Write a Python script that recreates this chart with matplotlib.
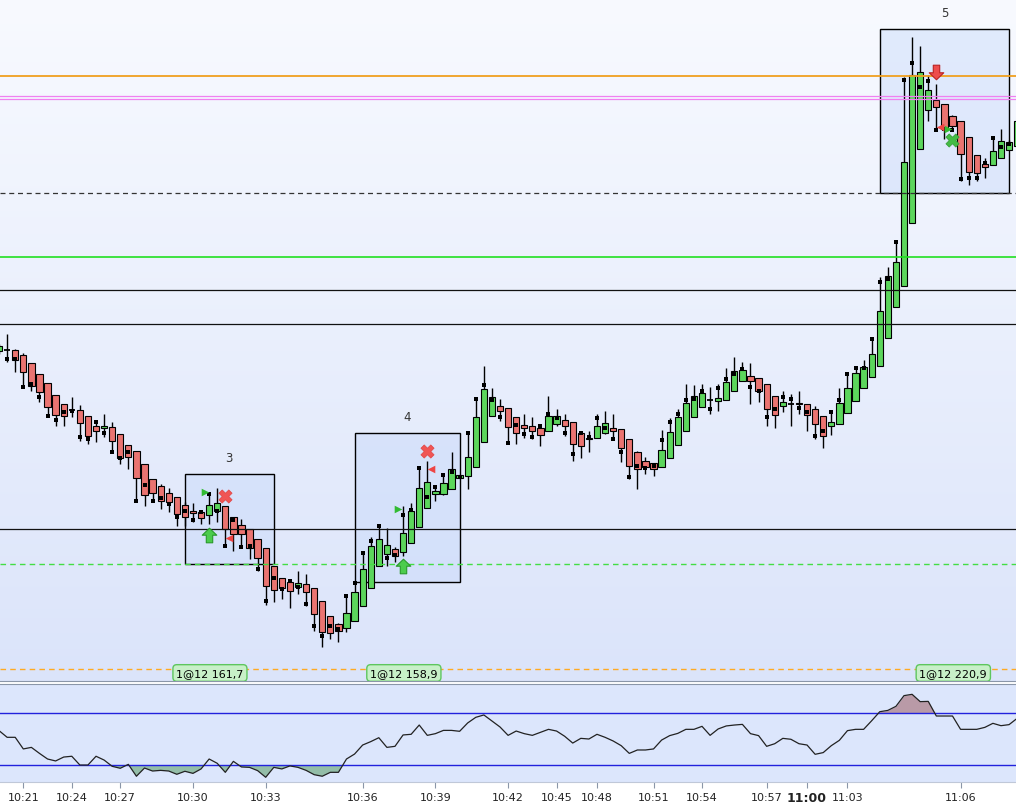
import matplotlib.pyplot as plt
import numpy as np
from matplotlib.path import Path
from matplotlib.colors import LinearSegmentedColormap

# ---- candles (one bar per index) ----
opens = [348, 349, 349, 344, 336, 325, 316, 304, 295, 288.7,
         289, 282.7, 272.7, 270.7, 271.7, 264.7, 253.7, 247.7, 234.7, 219.7,
         212.7, 205.7, 201.7, 193.7, 188, 186.7, 184.3, 188, 192.7, 181.7,
         174, 170, 160, 150.7, 132.7, 121, 117.3, 112.3, 114.7, 110.7,
         97.7, 82.7, 74.7, 71.3, 78.3, 92.7, 111.3, 132.7, 145, 149.7,
         146.7, 156.3, 171.7, 191.3, 204.7, 205.3, 210.3, 220.7, 222.7, 231.7,
         256.7, 283.3, 292.7, 290.7, 281.7, 273.7, 272.7, 270.7, 267.7, 274.7,
         278.7, 276.7, 265.7, 260.7, 260.7, 266.3, 270.7, 269.7, 259.7, 246.7,
         237.7, 235.7, 232.3, 240.7, 253.7, 267.7, 281.7, 291.7, 298.7, 298.3,
         299.3, 308.3, 317.7, 322.7, 320.7, 314.7, 302.7, 292.7, 294.7, 295.7,
         294.7, 289.7, 282.7, 272.7, 274.7, 285.7, 298.3, 311.3, 321.7, 332.7,
         360.7, 391.7, 413.3, 475.7, 549.7, 588.7, 599, 594.7, 582.7, 577.7,
         561.7, 543.7, 534.7, 533.7, 540.7, 548.7, 553]
closes = [353, 349, 339.3, 327.3, 313.3, 306.7, 292.3, 284.3, 282.7, 288.7,
          275.7, 263.3, 267.7, 272.7, 258.3, 241.3, 242.3, 221.3, 204.3, 205.7,
          198, 197.3, 185, 181.7, 185.7, 181.3, 194, 196, 170, 165,
          165, 150.7, 141.3, 113.3, 109.3, 111.3, 108.3, 115.7, 106.7, 85.3,
          67.3, 66.3, 68.3, 85.7, 106.7, 129.7, 152.7, 159.7, 153.7, 142.7,
          165.7, 187.7, 210.7, 216.7, 207.7, 215.7, 229.7, 223.7, 241.7, 281.7,
          309.7, 301.7, 288.3, 271.7, 265.7, 271.3, 267.7, 264.3, 283, 282.7,
          273.3, 254.7, 253.3, 259.7, 272.7, 276, 268.3, 250.7, 233.3, 229.7,
          232.3, 229.7, 248.7, 266.7, 281.7, 295.7, 302.7, 305.7, 298.7, 300.7,
          316.7, 327.7, 328.7, 317.7, 308.3, 290.3, 283.7, 296.7, 294.7, 294.7,
          283.7, 274.7, 262.7, 276.7, 295.7, 310.7, 325.7, 331.7, 344.7, 387.7,
          423, 436.7, 536.7, 624, 626.7, 609, 591.7, 569.7, 573.3, 544.7,
          526.7, 525.7, 531.7, 547.7, 557.7, 556.7, 578]
highs = [355, 365, 350, 346, 336, 325, 316, 304, 295, 302,
         294, 283, 279.3, 285, 276.7, 265, 254, 248, 235, 220,
         215, 210.7, 202, 197, 196, 189, 207.3, 210.7, 193, 182,
         180, 170, 160, 151, 133, 121, 118.7, 127.7, 125, 111,
         98, 83, 76, 103.3, 116, 146, 161.7, 173.3, 171, 152.3,
         192.7, 196, 231.7, 238.3, 213.3, 225.7, 246.7, 224, 267.3, 300,
         333.3, 311, 300, 291, 282, 285, 281.7, 274, 303.3, 290,
         285, 277, 267, 267.7, 285, 288.3, 285, 270, 260, 248,
         242.3, 236, 269, 280.7, 290, 315, 314, 315, 311.7, 315,
         330.7, 341.7, 336.7, 336, 321, 315, 303, 307.7, 305, 307.7,
         295, 292.7, 283, 286.7, 310.7, 326.7, 332.7, 339, 361, 421.7,
         431.7, 457.3, 621.7, 661.7, 652.7, 624, 615, 595, 584, 578,
         562, 544, 540.7, 561.7, 569.7, 559.3, 580]
lows = [345, 337, 327, 311.7, 308.3, 296.7, 282, 273.3, 273.3, 281.7,
        258.3, 255, 256.7, 261.7, 246.7, 235, 230, 197.7, 192.7, 196.7,
        190, 186.7, 173.3, 173.3, 176.7, 175, 175, 176.7, 151.7, 148.3,
        150.7, 140, 128.3, 94.3, 97.3, 100, 91.3, 105, 93.3, 68.3,
        51.7, 60, 56.7, 66.7, 78.3, 92.7, 111.3, 132.7, 133.3, 137.3,
        143.3, 156.3, 171.7, 191.3, 198.3, 204, 210.3, 220.7, 210, 231.7,
        256.7, 283.3, 278.3, 255, 255, 261.3, 260, 253.3, 267.7, 272.7,
        262.7, 238.3, 241.3, 246.7, 260.7, 265.3, 258.7, 237.3, 220, 210,
        225, 222.7, 232.3, 240.7, 253.7, 267.7, 281.7, 291.7, 284.7, 287.7,
        299.3, 308.3, 317.7, 295, 296.7, 272.7, 270.7, 287.3, 273.3, 284.7,
        268.3, 260, 250.7, 264.3, 274.7, 285.7, 298.3, 311.3, 321.7, 332.7,
        360.7, 391.7, 413.3, 475.7, 549.7, 578.3, 568.7, 560, 568.7, 518.3,
        514.3, 517.7, 520.7, 533.7, 540.7, 548.7, 553]
# small black square drawn on each bar
marks = [np.nan, 340, 340, 312, 315, 302, 283.3, 279, 287, 288,
         262, 260, 277, 265.7, 246.7, 240.7, 247, 197.7, 214, 197.7,
         200.7, 195, 182, 187.7, 178.7, 186.7, 205, 187.7, 152.7, 178.7,
         151.7, 152.7, 130, 97.7, 121, 110, 118, 111.7, 94.7, 72.7,
         62.7, 72.7, 70, 103, 115.7, 145.7, 157.7, 172.7, 140.7, 144,
         184, 189.3, 230.7, 201.7, 211.7, 224.3, 226.7, 222.3, 266, 299.7,
         314, 298.7, 281.7, 255.7, 273.7, 264.7, 261.7, 272.7, 284.7, 281,
         265.7, 244.7, 265.7, 262, 280.7, 270.7, 260, 246.7, 221.7, 232.7,
         231, 232.7, 259, 276.7, 284.7, 298.7, 299.7, 307.7, 289.7, 310.7,
         319.7, 324.7, 330.3, 311.7, 307.7, 281.7, 289.7, 301.7, 299.7, 290.7,
         286.7, 262.7, 267.7, 286.7, 298.7, 325, 331, 331, 360, 416.7,
         420, 457, 619, 635.7, 611.7, 617.7, 568.7, 569.7, 568.7, 519.7,
         520.7, 520.7, 536, 560.7, 551.7, 554.7, np.nan]

# ---- oscillator ----
osc = [56.5, 51.4, 51.4, 42.5, 43.7, 39.1, 34.8, 33.3, 36.3, 36.9,
       30.2, 30.2, 36.9, 34.0, 29.2, 27.7, 30.7, 21.6, 27.9, 25.6,
       26.1, 25.6, 23.1, 25.4, 23.8, 27.2, 34.8, 31.5, 24.6, 33.0,
       28.7, 28.4, 25.9, 20.8, 28.4, 27.2, 29.5, 28.4, 26.1, 22.8,
       21.6, 24.6, 24.6, 34.8, 38.6, 45.5, 48.1, 51.1, 43.7, 44.5,
       53.2, 53.7, 60.8, 52.9, 54.2, 56.7, 56.7, 56.0, 62.4, 66.7,
       68.5, 63.9, 59.3, 52.9, 56.2, 54.2, 52.9, 55.2, 57.5, 56.2,
       52.2, 47.0, 50.6, 50.1, 53.7, 51.4, 48.6, 45.0, 39.1, 41.7,
       41.7, 42.5, 49.3, 52.7, 54.4, 57.5, 57.5, 59.8, 52.9, 57.8,
       60.1, 60.8, 61.3, 54.2, 52.7, 44.5, 46.5, 50.6, 49.9, 46.5,
       45.5, 38.4, 39.7, 45.0, 49.1, 56.5, 57.5, 57.5, 64.1, 71.0,
       72.0, 75.1, 83.3, 84.3, 78.7, 78.9, 67.7, 67.7, 67.7, 57.5,
       57.5, 57.5, 59.0, 62.1, 60.3, 61.1, 65.9]
osc_hi, osc_lo = 70, 30

# ---- time axis ----
time_pos = [3, 9, 15, 24, 33, 45, 54, 63, 69, 74, 81, 87, 95, 100, 105, 119]
time_lab = ['10:21', '10:24', '10:27', '10:30', '10:33', '10:36', '10:39', '10:42',
            '10:45', '10:48', '10:51', '10:54', '10:57', '11:00', '11:03', '11:06']

# ---- horizontal price levels ----
levels = [623, 602.7, 599.7, 506.5, 441.7, 408.7, 374.7, 169.7, 134.7, 30]
level_style = [('#f0a020', '-', 1.3), ('#f080f0', '-', 0.9), ('#f080f0', '-', 0.9),
               ('#333333', (0, (4, 3)), 0.9), ('#22e022', '-', 1.2), ('#111111', '-', 0.9),
               ('#111111', '-', 0.9), ('#111111', '-', 0.9), ('#44dd44', (0, (4, 3)), 1.0),
               ('#ffaa22', (0, (4, 3)), 1.0)]

# ---- trade boxes ----
box_names = ['3', '4', '5']
box_x = [(23, 34), (44, 57), (109, 125)]
box_p = [(134.7, 224.7), (116.7, 265.7), (506, 669.7)]

fill_x = [26.1, 50.1, 118.1]
fill_txt = ['1@12 161,7', '1@12 158,9', '1@12 220,9']

# signal markers (bar position, price)
up_arrow = ([26.0, 50.0], [164, 132.7])
down_arrow = ([116.0], [626.7])
red_x = ([28.0, 53.0], [202.7, 247.7])
green_x = ([118.0], [558.7])
tri_right = ([25.5, 49.4, 117.4], [206.7, 189.7, 569.7])
tri_left = ([28.5, 53.5, 116.5], [161.3, 229.7, 571.7])

# -------------------------------------------------------------
fig = plt.figure(figsize=(10.16, 8.04), dpi=100, facecolor='white')
ax = fig.add_axes([0, 122 / 804, 1, 682 / 804])
ax2 = fig.add_axes([0, 21 / 804, 1, 98 / 804])

x0, x1 = 0.116, 125.86
ymin, ymax = 18, 700
idx = np.arange(len(opens))
o = np.array(opens); c = np.array(closes)
h = np.array(highs); l = np.array(lows)

bg = LinearSegmentedColormap.from_list('bg', ['#f8faff', '#dbe4fa'])
ax.imshow(np.linspace(0, 1, 256).reshape(-1, 1), cmap=bg, aspect='auto',
          extent=[x0, x1, ymin, ymax], origin='upper', zorder=0)

for (a, b), (p0, p1), name in zip(box_x, box_p, box_names):
    ax.add_patch(plt.Rectangle((a, p0), b - a, p1 - p0, facecolor=(0.78, 0.85, 0.98, 0.45),
                               edgecolor='black', lw=1.0, zorder=1))
    ax.text((a + b) / 2, p1 + 10, name, ha='center', va='bottom', fontsize=8.5, color='#333333')

ax.vlines(idx, l, h, color='black', lw=1.0, zorder=2)
up = c > o
dn = c < o
eq = c == o
w = 0.78
ax.bar(idx[up], (c - o)[up], bottom=o[up], width=w, color='#5cd65c', edgecolor='black', lw=0.8, zorder=3)
ax.bar(idx[dn], (o - c)[dn], bottom=c[dn], width=w, color='#ea7471', edgecolor='black', lw=0.8, zorder=3)
ax.hlines(o[eq], idx[eq] - w / 2, idx[eq] + w / 2, color='black', lw=1.3, zorder=3)
ax.scatter(idx, marks, marker='s', s=8, color='black', zorder=4, lw=0)

for p, (col, ls, lw) in zip(levels, level_style):
    ax.axhline(p, color=col, ls=ls, lw=lw, zorder=5)

# block arrow markers
arr_up = Path([(-0.22, -0.5), (0.22, -0.5), (0.22, 0.02), (0.5, 0.02), (0, 0.5),
               (-0.5, 0.02), (-0.22, 0.02), (-0.22, -0.5)], closed=True)
arr_dn = Path([(x, -y) for x, y in arr_up.vertices], closed=True)
ax.scatter(*up_arrow, marker=arr_up, s=110, color='#4ccc4c', edgecolor='#2a9a2a', lw=0.8, zorder=6)
ax.scatter(*down_arrow, marker=arr_dn, s=110, color='#ee4d4d', edgecolor='#bb2222', lw=0.8, zorder=6)
ax.scatter(*red_x, marker='X', s=90, color='#f05555', edgecolor='#e04444', lw=0.5, zorder=6)
ax.scatter(*green_x, marker='X', s=90, color='#44bb44', edgecolor='#339933', lw=0.5, zorder=6)
ax.scatter(*tri_right, marker='>', s=30, color='#33bb33', lw=0, zorder=6)
ax.scatter(*tri_left, marker='<', s=30, color='#ee4444', lw=0, zorder=6)

for xx, t in zip(fill_x, fill_txt):
    ax.text(xx, 26, t, ha='center', va='center', fontsize=8, color='black', zorder=7, clip_on=True,
            bbox=dict(boxstyle='round,pad=0.3,rounding_size=0.35', fc='#c8f0c8', ec='#5ec65e', lw=1))

ax.set_xlim(x0, x1)
ax.set_ylim(ymin, ymax)
ax.set_xticks([]); ax.set_yticks([])
for s in ['top', 'left', 'right']:
    ax.spines[s].set_visible(False)
ax.spines['bottom'].set_color('#8a96a8')

# oscillator pane
ov = np.array(osc)
ax2.set_facecolor('#dce6fc')
ax2.fill_between(idx, ov, osc_hi, where=ov > osc_hi, interpolate=True, color='#b99aa7', lw=0)
ax2.fill_between(idx, ov, osc_lo, where=ov < osc_lo, interpolate=True, color='#93bda8', lw=0)
ax2.axhline(osc_hi, color='#2222dd', lw=1.0)
ax2.axhline(osc_lo, color='#2222dd', lw=1.0)
ax2.plot(idx, ov, color='#222222', lw=0.9)
ax2.set_xlim(x0, x1)
ax2.set_ylim(17.2, 92.2)
ax2.set_yticks([])
ax2.set_xticks(time_pos)
ax2.set_xticklabels(time_lab, fontsize=8, color='#222222')
ax2.tick_params(axis='x', length=4, width=0.8, color='#8a96a8', pad=3)
lab = ax2.get_xticklabels()[time_lab.index('11:00')]
lab.set_fontweight('bold')
lab.set_fontsize(9)
lab.set_y(0.01)
for s in ['left', 'right']:
    ax2.spines[s].set_visible(False)
ax2.spines['top'].set_color('#8a96a8')
ax2.spines['bottom'].set_color('#c0c8d8')

fig.savefig('out.png', dpi=100)
